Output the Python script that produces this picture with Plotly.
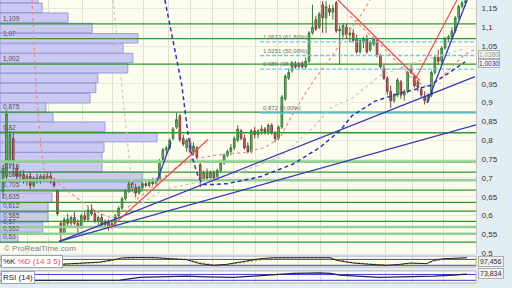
import plotly.graph_objects as go

# ---------------- price data (bar index, OHLC) ----------------
opens = [0.665,0.705,0.745,0.805,0.725,0.705,0.710,0.695,0.705,0.680,0.700,0.695,0.705,0.695,0.705,0.690,
         0.665,0.580,0.555,0.590,0.580,0.595,0.580,0.570,0.600,0.590,0.615,0.605,0.585,0.595,0.575,0.585,
         0.570,0.580,0.600,0.620,0.645,0.665,0.685,0.675,0.660,0.675,0.685,0.680,0.690,0.685,0.695,0.750,
         0.775,0.780,0.805,0.835,0.865,0.805,0.780,0.795,0.770,0.780,0.735,0.695,0.715,0.700,0.715,0.700,
         0.720,0.740,0.760,0.770,0.780,0.800,0.825,0.805,0.785,0.770,0.825,0.815,0.825,0.830,0.820,0.840,
         0.820,0.805,0.835,0.910,0.965,0.985,1.000,0.995,1.003,0.995,1.010,1.085,1.120,1.100,1.160,1.125,
         1.150,1.140,1.165,1.090,1.080,1.100,1.080,1.085,1.070,1.035,1.060,1.070,1.040,1.055,1.065,1.025,
         0.990,0.965,0.930,0.905,0.920,0.955,0.920,0.930,0.990,0.970,0.955,0.935,0.915,0.905,0.920,0.980,
         1.020,1.010,1.045,1.070,1.075,1.090,1.125,1.155,1.165]
highs = [0.735,0.880,0.825,0.820,0.735,0.720,0.720,0.710,0.715,0.705,0.710,0.710,0.710,0.715,0.715,0.700,
         0.670,0.585,0.595,0.605,0.600,0.610,0.590,0.605,0.610,0.625,0.630,0.615,0.600,0.605,0.590,0.590,
         0.585,0.605,0.625,0.650,0.670,0.690,0.695,0.685,0.680,0.690,0.695,0.695,0.700,0.700,0.750,0.780,
         0.785,0.805,0.835,0.873,0.870,0.815,0.805,0.805,0.795,0.785,0.740,0.720,0.725,0.720,0.720,0.725,
         0.745,0.765,0.775,0.790,0.810,0.840,0.830,0.815,0.795,0.830,0.835,0.830,0.840,0.835,0.845,0.845,
         0.825,0.840,0.920,0.975,0.990,1.010,1.010,1.008,1.010,1.020,1.090,1.160,1.130,1.140,1.170,1.170,
         1.160,1.160,1.170,1.105,1.110,1.110,1.100,1.095,1.080,1.070,1.075,1.080,1.065,1.075,1.070,1.030,
         1.000,0.970,0.945,0.925,0.965,0.960,0.935,0.985,1.000,0.975,0.960,0.940,0.930,0.925,0.985,1.025,
         1.040,1.050,1.075,1.080,1.100,1.130,1.160,1.170,1.175]
lows = [0.645,0.695,0.725,0.705,0.695,0.690,0.685,0.680,0.670,0.675,0.685,0.685,0.690,0.690,0.685,0.675,
        0.600,0.530,0.550,0.570,0.570,0.575,0.550,0.565,0.585,0.585,0.600,0.580,0.575,0.570,0.565,0.560,
        0.565,0.575,0.595,0.615,0.640,0.660,0.665,0.650,0.655,0.670,0.675,0.675,0.680,0.680,0.690,0.745,
        0.765,0.775,0.800,0.830,0.795,0.785,0.770,0.765,0.760,0.750,0.675,0.690,0.695,0.695,0.695,0.695,
        0.715,0.735,0.755,0.760,0.775,0.795,0.800,0.775,0.765,0.765,0.805,0.805,0.815,0.815,0.815,0.815,
        0.795,0.800,0.830,0.905,0.960,0.980,0.990,0.990,0.990,0.990,1.005,1.080,1.090,1.095,1.085,1.085,
        1.130,1.120,1.085,1.000,1.070,1.070,1.060,1.060,1.030,1.030,1.045,1.030,1.035,1.050,1.020,0.990,
        0.960,0.920,0.885,0.900,0.915,0.910,0.905,0.925,0.975,0.940,0.930,0.915,0.895,0.900,0.915,0.975,
        1.000,1.005,1.040,1.060,1.070,1.085,1.120,1.150,1.155]
closes = [0.725,0.870,0.815,0.745,0.705,0.710,0.695,0.705,0.680,0.700,0.695,0.705,0.695,0.705,0.690,0.680,
          0.605,0.553,0.590,0.580,0.595,0.580,0.570,0.600,0.590,0.615,0.605,0.585,0.595,0.575,0.585,0.570,
          0.580,0.600,0.620,0.645,0.665,0.685,0.675,0.660,0.675,0.685,0.680,0.690,0.685,0.695,0.745,0.775,
          0.780,0.800,0.830,0.855,0.802,0.790,0.800,0.770,0.785,0.755,0.695,0.715,0.700,0.715,0.700,0.720,
          0.740,0.760,0.770,0.780,0.805,0.830,0.805,0.780,0.770,0.825,0.815,0.825,0.830,0.820,0.840,0.820,
          0.805,0.835,0.915,0.970,0.980,1.005,0.995,1.003,0.995,1.010,1.085,1.100,1.095,1.135,1.125,1.155,
          1.140,1.150,1.090,1.095,1.105,1.080,1.085,1.065,1.035,1.065,1.070,1.035,1.060,1.070,1.025,0.995,
          0.965,0.930,0.905,0.920,0.960,0.920,0.930,0.980,0.980,0.945,0.940,0.920,0.905,0.920,0.980,1.020,
          1.010,1.045,1.070,1.075,1.090,1.125,1.155,1.165,1.170]
bar_index = list(range(len(opens)))

X_LEFT, X_RIGHT = -0.9, 139.1
Y_MIN, Y_MAX = 0.4995, 1.1724

month_marks = [7.06, 13.24, 23.24, 32.06, 41.18, 48.53, 55.0, 61.47, 67.65, 74.12, 80.59,
               86.76, 93.24, 101.2, 112.35, 120.3, 129.4]

price_ticks = [0.5, 0.55, 0.6, 0.65, 0.7, 0.75, 0.8, 0.85, 0.9, 0.95, 1.0, 1.05, 1.1, 1.15]
# "1" sits under the 1,0030 marker box in the reference, so it is not shown
price_tick_text = ["0,5", "0,55", "0,6", "0,65", "0,7", "0,75", "0,8", "0,85", "0,9", "0,95",
                   "", "1,05", "1,1", "1,15"]

# support / resistance levels
support_levels = [1.109, 1.07, 1.002, 0.875, 0.82, 0.7155, 0.6677, 0.635, 0.612, 0.585, 0.53]
zone_levels = [0.7434, 0.6938, 0.570, 0.552]
label_levels = [1.109, 1.07, 1.002, 0.875, 0.82, 0.7155, 0.6938, 0.6677, 0.635, 0.612, 0.585, 0.570, 0.552, 0.53]
label_texts = ["1,109", "1,07", "1,002", "0,875", "0,82", "0,718", "0,695", "0,705", "0,635", "0,612",
               "0,585", "0,57", "0,552", "0,53"]

# volume by price
profile_prices = [1.1776, 1.1516, 1.1255, 1.0981, 1.0707, 1.0433, 1.0185, 0.9912, 0.9651, 0.9390,
                  0.9116, 0.8868, 0.8607, 0.8360, 0.8086, 0.7809, 0.7551, 0.7290, 0.7029, 0.6768,
                  0.6478, 0.6219, 0.5958, 0.5686, 0.5412]
profile_volume = [11.2, 12.4, 20.0, 27.1, 40.6, 36.2, 39.1, 37.6, 28.8, 28.2,
                  26.5, 13.5, 15.6, 30.9, 46.2, 30.6, 30.0, 30.0, 41.8, 41.8,
                  15.3, 14.1, 14.1, 12.6, 5.3]

# Fibonacci retracement
fib_levels = [1.0613, 1.0251, 0.989]
fib_texts = ["1,0613 (61,80%)", "1,0251 (50,00%)", "0,989 (38,20%)"]
fib_base = 0.872
fib_base_text = "0,872 (0,00%)"
fib_start = 75.6

# trend lines (bar index, price)
blue_trend_1 = ([16.5, 138.8], [0.532, 0.969])
blue_trend_2 = ([16.5, 139.1], [0.532, 0.841])
blue_trend_3 = ([45.3, 49.4], [0.6923, 0.794])
blue_trend_4 = ([124.7, 136.5], [0.899, 1.1724])
red_trend_1 = ([31.5, 60.3], [0.568, 0.802])
red_trend_2 = ([98.5, 122.6], [1.1724, 0.9586])
red_trend_3 = ([120.9, 133.5], [0.956, 1.1724])

blue_curve_x = [47.6, 50.6, 52.6, 54.4, 55.9, 57.4, 58.8, 62.4, 65.9, 75.6, 85.3, 93.2, 99.1,
                102.6, 109.4, 116.8, 125.6, 135.9]
blue_curve_y = [1.1724, 1.042, 0.9455, 0.815, 0.747, 0.703, 0.683, 0.683, 0.685, 0.703, 0.737,
                0.781, 0.8256, 0.865, 0.904, 0.925, 0.9455, 1.008]
red_curve_x = [8.53, 9.71, 11.18, 12.35, 15.29, 19.71, 24.12, 28.53, 32.06, 35.88, 40.29, 44.71,
               50.59, 55.59, 62.35, 71.18, 77.06, 81.47, 85.88, 91.18, 96.76, 100.59, 104.41, 107.94]
red_curve_y = [1.1724, 0.9377, 0.7812, 0.703, 0.6926, 0.6613, 0.63, 0.606, 0.5936, 0.6145, 0.651,
               0.6823, 0.726, 0.7499, 0.7603, 0.7682, 0.7812, 0.8073, 0.8803, 0.956, 1.0238, 1.0759,
               1.1203, 1.1724]
red_curve2_x = [102.06, 112.35, 119.71, 124.12, 128.53, 135.88, 139.1]
red_curve2_y = [1.1296, 1.042, 0.969, 0.943, 0.9638, 1.029, 1.042]
grey_curve_x = [32.35, 34.41, 36.18, 37.35, 38.53, 40.29, 47.06, 57.94, 69.71, 81.47, 91.18,
                96.18, 102.65, 110.88, 122.65, 135.29]
grey_curve_y = [1.1724, 0.9898, 0.8334, 0.7291, 0.6508, 0.63, 0.6691, 0.69, 0.716, 0.7551, 0.8334,
                0.8855, 0.9116, 0.9716, 1.0107, 1.042]

# last-value markers on the price scale
marker_a_text, marker_a_pos = "1,0380", 1.028
marker_b_text, marker_b_pos = "1,0030", 1.003

# stochastic (14 3 5)
stoch_x = [16.8, 21.7, 28.5, 31.5, 35.4, 40.3, 45.2, 49.1, 54.0, 57.9, 61.9, 65.8, 69.7, 75.6, 79.5,
           87.4, 96.2, 98.1, 103.0, 107.9, 112.8, 116.8, 119.7, 124.6, 126.6, 129.5, 136.4]
stoch_k = [30, 37, 53, 70, 97, 99, 97, 87, 77, 37, 20, 30, 53, 87, 97, 97, 97, 70, 43, 30, 20, 30,
           43, 37, 70, 87, 97]
stoch_d = [32, 35, 48, 62, 88, 99, 98, 90, 80, 48, 25, 28, 45, 78, 93, 97, 97, 80, 50, 35, 22, 27,
           38, 38, 60, 82, 96]
stoch_last = "97,456"

# RSI (14)
rsi_x = [0, 10, 20, 30, 34.4, 40.3, 48.1, 54.0, 59.9, 67.7, 73.6, 80.5, 85.4, 93.2, 96.2, 99.0,
         104.9, 110.8, 116.8, 122.6, 126.6, 132.5, 136.4]
rsi_v = [30, 29, 30, 30, 31, 50, 54, 59, 54, 50, 59, 72, 77, 81, 77, 66, 59, 50, 54, 54, 59, 66, 72]
rsi_last = "73,834"
rsi_last_pos = 73.834

FONT = "Liberation Sans, Arial, sans-serif"

fig = go.Figure()

# volume profile
fig.add_trace(go.Bar(
    y=profile_prices, x=profile_volume, base=X_LEFT, orientation="h", width=0.0252,
    marker=dict(color="#c9c9f2", line=dict(color="#8c8cd2", width=0.8)),
    xaxis="x", yaxis="y", hoverinfo="skip"))

def hline(level, color, width, dash="solid", x0=X_LEFT, yaxis="y"):
    fig.add_trace(go.Scatter(x=[x0, X_RIGHT], y=[level, level], mode="lines",
                             line=dict(color=color, width=width, dash=dash),
                             xaxis="x", yaxis=yaxis, hoverinfo="skip"))

for lv in zone_levels:
    hline(lv, "#92cf92", 2.6)
for lv in support_levels:
    hline(lv, "#2f9a2f", 1.3)
for lv in fib_levels:
    hline(lv, "#6cc8f2", 1.3, "4px,2px", fib_start)
hline(fib_base, "#6cc8f2", 1.3, "solid", fib_start)

def poly(xs, ys, color, width, dash="solid"):
    fig.add_trace(go.Scatter(x=xs, y=ys, mode="lines", line=dict(color=color, width=width, dash=dash),
                             xaxis="x", yaxis="y", hoverinfo="skip"))

poly(grey_curve_x, grey_curve_y, "#c9c9c4", 1.2, "3px,3px")
poly(red_curve_x, red_curve_y, "#ee8a80", 1.2, "3px,3px")
poly(red_curve2_x, red_curve2_y, "#ee8a80", 1.2, "3px,3px")
poly(blue_curve_x, blue_curve_y, "#3232b0", 1.5, "4px,3px")

fig.add_trace(go.Candlestick(
    x=bar_index, open=opens, high=highs, low=lows, close=closes,
    increasing=dict(line=dict(color="#3d7a3d", width=1), fillcolor="#68be68"),
    decreasing=dict(line=dict(color="#7c4040", width=1), fillcolor="#d86c6c"),
    whiskerwidth=0, xaxis="x", yaxis="y", hoverinfo="skip"))

for tl in (blue_trend_1, blue_trend_2, blue_trend_3, blue_trend_4):
    poly(tl[0], tl[1], "#3434b8", 1.3)
for tl in (red_trend_1, red_trend_2, red_trend_3):
    poly(tl[0], tl[1], "#ea4c4c", 1.2)

# indicator panels
hline(80, "#3c3ce0", 1, yaxis="y2")
hline(20, "#3c3ce0", 1, yaxis="y2")
fig.add_trace(go.Scatter(x=stoch_x, y=stoch_d, mode="lines", line=dict(color="#e86060", width=1, dash="2px,2px"),
                         xaxis="x", yaxis="y2", hoverinfo="skip"))
fig.add_trace(go.Scatter(x=stoch_x, y=stoch_k, mode="lines", line=dict(color="#222222", width=1),
                         xaxis="x", yaxis="y2", hoverinfo="skip"))
hline(70, "#3c3ce0", 1, yaxis="y3")
hline(30, "#3c3ce0", 1, yaxis="y3")
fig.add_trace(go.Scatter(x=rsi_x, y=rsi_v, mode="lines", line=dict(color="#22224a", width=1.2),
                         xaxis="x", yaxis="y3", hoverinfo="skip"))

ann = []
for lv, tx in zip(label_levels, label_texts):
    ann.append(dict(xref="paper", x=2 / 512, xanchor="left", yref="y", y=lv, yanchor="bottom",
                    text=tx, showarrow=False, font=dict(size=6.5, color="#555555", family=FONT),
                    borderpad=0, yshift=1))
for lv, tx in zip(fib_levels + [fib_base], fib_texts + [fib_base_text]):
    ann.append(dict(xref="x", x=fib_start + 0.6, xanchor="left", yref="y", y=lv, yanchor="bottom",
                    text=tx, showarrow=False, font=dict(size=6, color="#707070", family=FONT),
                    borderpad=0, yshift=1))
ann.append(dict(xref="paper", x=2 / 512, xanchor="left", yref="y", y=0.514, yanchor="middle",
                text="© ProRealTime.com", showarrow=False, font=dict(size=8, color="#808080", family=FONT)))
ann.append(dict(xref="paper", x=478 / 512, xanchor="left", yref="y", y=marker_a_pos, yanchor="middle",
                text=marker_a_text, showarrow=False, font=dict(size=6.5, color="#9a9a9a", family=FONT),
                bgcolor="#f2f2f2", bordercolor="#b0b0b0", borderwidth=1, borderpad=0))
ann.append(dict(xref="paper", x=478 / 512, xanchor="left", yref="y", y=marker_b_pos, yanchor="middle",
                text=marker_b_text, showarrow=False, font=dict(size=6.5, color="#2a2aa0", family=FONT),
                bgcolor="#f4f4f8", bordercolor="#b0b0b0", borderwidth=1, borderpad=0))
ann.append(dict(xref="paper", x=478 / 512, xanchor="left", yref="y2 domain", y=0.5, yanchor="middle",
                text=stoch_last, showarrow=False, font=dict(size=7, color="#333333", family=FONT),
                bgcolor="#eeeeee", bordercolor="#b0b0b0", borderwidth=1, borderpad=1))
ann.append(dict(xref="paper", x=478 / 512, xanchor="left", yref="y3", y=rsi_last_pos,
                yanchor="middle", text=rsi_last, showarrow=False,
                font=dict(size=7, color="#333333", family=FONT),
                bgcolor="#eeeeee", bordercolor="#b0b0b0", borderwidth=1, borderpad=1))
ann.append(dict(xref="paper", x=1 / 512, xanchor="left", yref="y2 domain", y=0.5, yanchor="middle",
                text="%K <span style='color:#e05050'>%D (14 3 5)</span>", showarrow=False,
                font=dict(size=8, color="#222222", family=FONT),
                bgcolor="#ffffff", bordercolor="#a0a0a0", borderwidth=1, borderpad=1))
ann.append(dict(xref="paper", x=1 / 512, xanchor="left", yref="y3 domain", y=1, yanchor="top",
                text="RSI (14)", showarrow=False, font=dict(size=8, color="#222222", family=FONT),
                bgcolor="#ffffff", bordercolor="#a0a0a0", borderwidth=1, borderpad=1))

shapes = []
for ya in ("y2", "y3"):
    shapes.append(dict(type="rect", xref="x domain", yref=ya + " domain", x0=0, x1=1, y0=0, y1=1,
                       line=dict(color="#b4b4b4", width=1), layer="above"))

fig.update_layout(
    width=512, height=288, margin=dict(l=0, r=0, t=0, b=0),
    paper_bgcolor="#e3eef2", plot_bgcolor="#fcfcef", showlegend=False, hovermode=False,
    font=dict(family=FONT),
    annotations=ann, shapes=shapes,
    xaxis=dict(domain=[0, 476 / 512], range=[X_LEFT, X_RIGHT], anchor="y", tickvals=month_marks,
               showticklabels=False, ticks="", showgrid=True, gridcolor="#e0e0d2", gridwidth=1,
               zeroline=False, rangeslider=dict(visible=False), showline=False),
    yaxis=dict(domain=[1 - 258 / 288, 1], range=[Y_MIN, Y_MAX], side="right", anchor="x",
               tickvals=price_ticks, ticktext=price_tick_text,
               tickfont=dict(size=8, color="#333333", family=FONT), ticks="outside", ticklen=3,
               tickcolor="rgba(0,0,0,0)", showgrid=True, gridcolor="#ebebdd", zeroline=False,
               showline=True, linecolor="#c4c4c4"),
    yaxis2=dict(domain=[1 - 271.7 / 288, 1 - 260.7 / 288], range=[3, 113], anchor="x",
                showticklabels=False, showgrid=False, zeroline=False),
    yaxis3=dict(domain=[0, 1 - 275.7 / 288], range=[12, 94], anchor="x",
                showticklabels=False, showgrid=False, zeroline=False),
)

fig.write_html("out.html")
